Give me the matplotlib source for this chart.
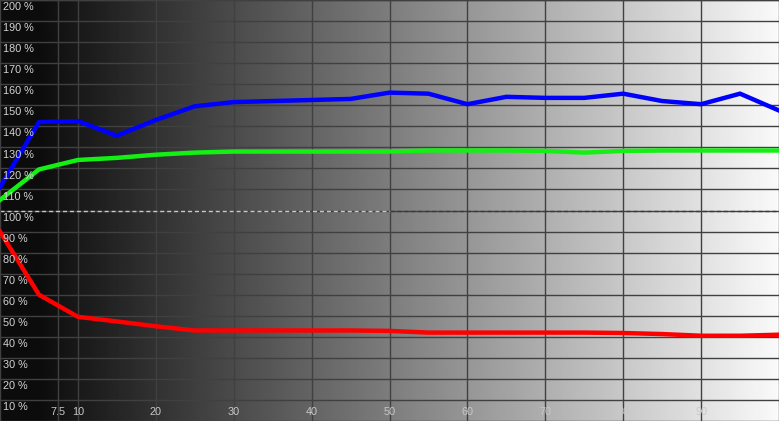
import numpy as np
import matplotlib
matplotlib.use("Agg")
import matplotlib.pyplot as plt

# Data
x_levels = [0, 5, 10, 15, 20, 25, 30, 35, 40, 45, 50, 55, 60, 65, 70, 75, 80, 85, 90, 95, 100]
red = [90, 60, 49.5, 47.3, 45, 43, 43, 43, 43, 43, 42.8, 42, 42, 42, 42, 42, 41.8, 41.3, 40.5, 40.5, 41]
green = [105, 119.5, 124, 125, 126.5, 127.5, 128, 128, 128, 128, 128, 128.5, 128.5, 128.5, 128.3, 127.5,
         128.3, 128.5, 128.5, 128.5, 128.5]
blue = [111, 142, 142.5, 135.5, 143, 149.5, 151.5, 152, 152.5, 153, 156, 155.5, 150.5, 154, 153.5, 153.5,
        155.5, 152, 150.5, 155.5, 147.5]

x_ticks = [7.5, 10, 20, 30, 40, 50, 60, 70, 80, 90]
x_tick_labels = ["7.5", "10", "20", "30", "40", "50", "60", "70", "80", "90"]
y_ticks = list(range(10, 201, 10))
y_tick_labels = [f"{v} %" for v in y_ticks]
ref_level = 100

fig = plt.figure(figsize=(7.79, 4.21), dpi=100)
ax = fig.add_axes([0, 0, 1, 1])
ax.set_xlim(0, 100)
ax.set_ylim(0, 200)

# gradient background
grad = np.clip(np.linspace(0.0, 1.0, 512) * 0.98, 0.05, 1.0).reshape(1, -1)
grad[0, -1] = 1.0
ax.imshow(grad, extent=[0, 100, 0, 200], aspect="auto", cmap="gray", vmin=0, vmax=1,
          interpolation="bilinear", zorder=0)

grid_c = "#404040"
for yv in y_ticks:
    ax.axhline(yv, color=grid_c, lw=1.0, zorder=1)
for xv in x_ticks:
    ax.axvline(xv, color=grid_c, lw=1.0, zorder=1)

# dashed 100% reference line: light on the dark half, dark on the light half
ax.hlines(ref_level, 0, 50, colors="#c8c8c8", lw=1.0, linestyles=(0, (2.9, 2.1)), zorder=2)
ax.hlines(ref_level, 50, 100, colors="#3a3a3a", lw=1.0, linestyles=(0, (2.9, 2.1)), zorder=2)

ax.plot(x_levels, red, color="#ff0000", lw=3.2, zorder=3, solid_joinstyle="miter")
ax.plot(x_levels, green, color="#14f014", lw=3.2, zorder=4, solid_joinstyle="miter")
ax.plot(x_levels, blue, color="#0000ff", lw=3.2, zorder=5, solid_joinstyle="miter")

font = ["Liberation Sans", "DejaVu Sans"]
for yv, lab in zip(y_ticks, y_tick_labels):
    ax.text(0.4, yv - 3.4, lab, ha="left", va="center", fontsize=7.8, color="#d4d4d4",
            family=font, zorder=6)
for xv, lab in zip(x_ticks, x_tick_labels):
    ax.text(xv, 4.2, lab, ha="center", va="center", fontsize=7.8, color="#c8c8c8",
            family=font, zorder=6)

ax.set_xticks([])
ax.set_yticks([])
for s in ax.spines.values():
    s.set_color(grid_c)
    s.set_linewidth(1.0)

fig.savefig("out.png", dpi=100)
